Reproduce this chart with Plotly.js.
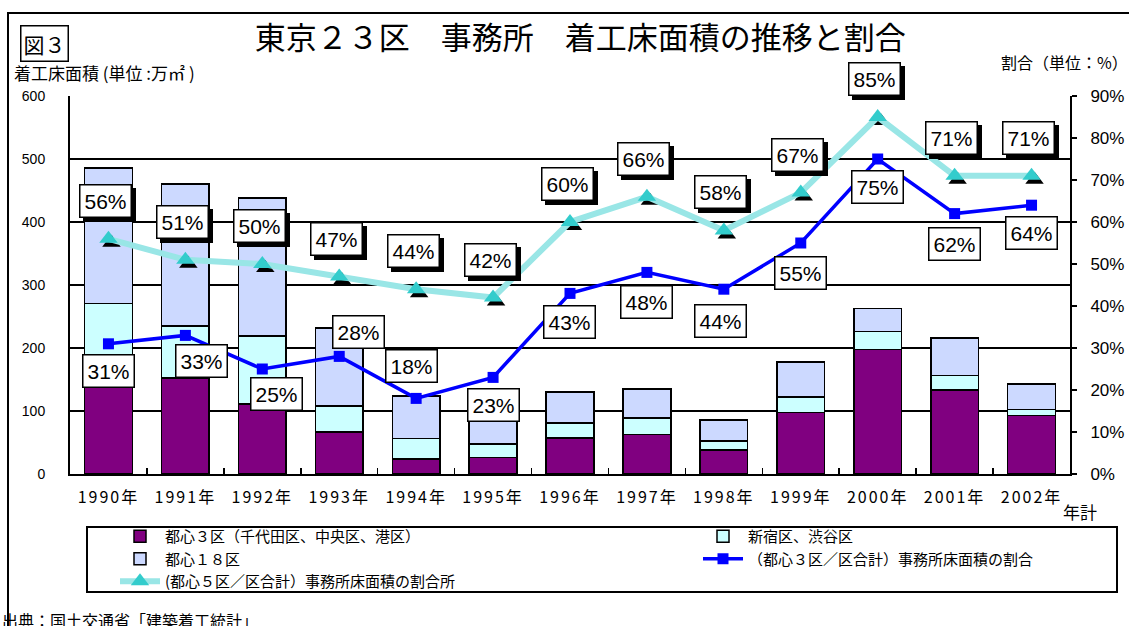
<!DOCTYPE html>
<html><head><meta charset="utf-8">
<script src="https://cdn.plot.ly/plotly-3.0.1.min.js"></script>
<style>
html,body{margin:0;padding:0;background:#fff;}
#chart{width:1129px;height:626px;}
.xtick text{letter-spacing:2px;}
</style></head><body>
<div id="chart"></div>
<script>
// ---- data ----
const years = ['1990年','1991年','1992年','1993年','1994年','1995年','1996年','1997年','1998年','1999年','2000年','2001年','2002年'];
const toshin3 = [145,152,111,67,24,26,57,63,38,98,198,133,93];           // 都心3区 (万㎡)
const shinjukuShibuya = [126,83,108,41,32,22,24,26,14,24,28,23,9];      // 新宿区、渋谷区
const toshin18 = [215,225,219,124,68,65,49,46,34,56,37,60,41];          // 都心18区
const share3 = [31,33,25,28,18,23,43,48,44,55,75,62,64];                // (都心3区/区合計) %
const share5 = [56,51,50,47,44,42,60,66,58,67,85,71,71];                // (都心5区/区合計) %
const seriesNames = ['都心３区（千代田区、中央区、港区）','新宿区、渋谷区','都心１８区',
  '（都心３区／区合計）事務所床面積の割合','(都心５区／区合計）事務所床面積の割合所'];

// ---- label offsets (style, px) ----
const share3Shift = [[0,-27],[16,-26],[14,-25],[19,24],[-5,32],[0,-28],[-1,-29],[0,-30],[-3,-32],[0,-30],[0,-28],[0,-30],[0,-28]];
const share5Shift = [-3,38];

const JP = 'Noto Sans CJK JP, sans-serif';
const NUM = 'Liberation Sans Narrow, Arial Narrow, Liberation Sans, sans-serif';

const traces = [
  {type:'bar', x:years, y:toshin3, name:seriesNames[0], legend:'legend', marker:{color:'#800080', line:{color:'#000', width:1.5}}, xaxis:'x', yaxis:'y'},
  {type:'bar', x:years, y:shinjukuShibuya, name:seriesNames[1], legend:'legend2', marker:{color:'#CCFFFF', line:{color:'#000', width:1.5}}, xaxis:'x', yaxis:'y'},
  {type:'bar', x:years, y:toshin18, name:seriesNames[2], legend:'legend', marker:{color:'#CCD9FF', line:{color:'#000', width:1.5}}, xaxis:'x', yaxis:'y'},
  {type:'scatter', mode:'markers', x:years, y:share5, showlegend:false, marker:{symbol:'triangle-up', size:16, color:'#000'}, xaxis:'x2', yaxis:'y2', hoverinfo:'skip'},
  {type:'scatter', mode:'lines+markers', x:years, y:share3, name:seriesNames[3], legend:'legend2', line:{color:'#0000FF', width:3.5}, marker:{symbol:'square', size:11, color:'#0000FF'}, xaxis:'x3', yaxis:'y3'},
  {type:'scatter', mode:'lines+markers', x:years, y:share5, name:seriesNames[4], legend:'legend', line:{color:'#99E6E6', width:6}, marker:{symbol:'triangle-up', size:16, color:'#33CCCC'}, xaxis:'x3', yaxis:'y3'}
];

const annotations = [];
years.forEach((yr,i)=>{
  annotations.push({xref:'x3', yref:'y3', x:yr, y:share5[i], text:share5[i]+'%', showarrow:false,
    xshift:share5Shift[0]+4, yshift:share5Shift[1]-4, font:{family:NUM, size:21, color:'#000'},
    bgcolor:'#000', bordercolor:'#000', borderwidth:1.5, borderpad:4});
  annotations.push({xref:'x3', yref:'y3', x:yr, y:share5[i], text:share5[i]+'%', showarrow:false,
    xshift:share5Shift[0], yshift:share5Shift[1], font:{family:NUM, size:21, color:'#000'},
    bgcolor:'#fff', bordercolor:'#000', borderwidth:1.5, borderpad:4});
  annotations.push({xref:'x3', yref:'y3', x:yr, y:share3[i], text:share3[i]+'%', showarrow:false,
    xshift:share3Shift[i][0], yshift:share3Shift[i][1], font:{family:NUM, size:21, color:'#000'},
    bgcolor:'#fff', bordercolor:'#000', borderwidth:1.5, borderpad:4});
});
annotations.push(
  {xref:'paper', yref:'paper', x:-0.0255, xanchor:'center', y:(474-44)/378, yanchor:'middle', text:'図３', showarrow:false,
   font:{family:JP, size:21, color:'#000'}, bordercolor:'#000', borderwidth:1.5, borderpad:2, bgcolor:'#fff'},
  {xref:'paper', yref:'paper', x:-0.058, xanchor:'left', y:(474-73)/378, yanchor:'middle', text:'着工床面積 (単位 :万㎡ )', showarrow:false,
   font:{family:JP, size:17, color:'#000'}},
  {xref:'paper', yref:'paper', x:(1130-70)/1000, xanchor:'right', y:(474-62)/378, yanchor:'middle', text:'割合（単位：%）', showarrow:false,
   font:{family:JP, size:16, color:'#000'}},
  {xref:'paper', yref:'paper', x:(1080-70)/1000, xanchor:'center', y:(474-511)/378, yanchor:'middle', text:'年計', showarrow:false,
   font:{family:JP, size:17, color:'#000'}},
  {xref:'paper', yref:'paper', x:-0.07, xanchor:'left', y:(474-606)/378, yanchor:'top', text:'出典：国土交通省「建築着工統計」', showarrow:false,
   font:{family:JP, size:16, color:'#000'}}
);

const legendCommon = {orientation:'v', traceorder:'normal', yanchor:'top', itemwidth:40, bgcolor:'rgba(0,0,0,0)', borderwidth:0,
  font:{family:JP, size:15, color:'#000'}, tracegroupgap:0, itemclick:false};

const layout = {
  width:1129, height:626,
  margin:{l:70, r:59, t:96, b:152, autoexpand:false},
  paper_bgcolor:'#fff', plot_bgcolor:'#fff',
  barmode:'stack', bargap:0.38,
  showlegend:true,
  hovermode:false,
  title:{text:'東京２３区　事務所　着工床面積の推移と割合', font:{family:JP, size:31, color:'#000'},
    xref:'container', yref:'container', x:0.514, xanchor:'center', y:1-38/626, yanchor:'middle'},
  xaxis:{type:'category', range:[-0.5,12.5], tickson:'boundaries', ticks:'inside', ticklen:6, tickwidth:1.5, tickcolor:'#000',
    showline:true, linecolor:'#000', linewidth:2, showgrid:false, tickfont:{family:JP, size:16, color:'#000'}, ticklabelstandoff:8},
  yaxis:{range:[0,600], dtick:100, showgrid:true, gridcolor:'#000', gridwidth:1.5, zeroline:false,
    showline:true, linecolor:'#000', linewidth:2, ticks:'', tickfont:{family:'Liberation Sans, Arial, sans-serif', size:14, color:'#000'}, ticklabelstandoff:20},
  xaxis2:{type:'category', overlaying:'x', range:[-0.5-0.039,12.5-0.039], visible:false},
  yaxis2:{overlaying:'y', range:[0.95,90.95], visible:false},
  xaxis3:{type:'category', overlaying:'x', range:[-0.5,12.5], visible:false},
  yaxis3:{overlaying:'y', side:'right', anchor:'x3', range:[0,90], dtick:10, ticksuffix:'%', showgrid:false, zeroline:false,
    showline:true, linecolor:'#000', linewidth:2, ticks:'outside', ticklen:5, tickwidth:1.5, tickcolor:'#000',
    tickfont:{family:'Liberation Sans, Arial, sans-serif', size:17, color:'#000'}, ticklabelstandoff:10},
  legend:Object.assign({}, legendCommon, {x:0.045, xanchor:'left', y:(474-520)/378}),
  legend2:Object.assign({}, legendCommon, {x:0.628, xanchor:'left', y:(474-520)/378}),
  shapes:[
    {type:'rect', xref:'paper', yref:'paper', x0:(87-70)/1000, x1:(1117-70)/1000, y0:(474-592)/378, y1:(474-527)/378,
     line:{color:'#000', width:2}, fillcolor:'rgba(0,0,0,0)', layer:'below'},
    {type:'rect', xref:'paper', yref:'paper', x0:(8-70)/1000, x1:(1140-70)/1000, y0:-0.6, y1:(474-13)/378,
     line:{color:'#000', width:2}, fillcolor:'rgba(0,0,0,0)', layer:'below'}
  ],
  annotations:annotations
};

Plotly.newPlot('chart', traces, layout, {displayModeBar:false, staticPlot:true});
</script>
</body></html>
